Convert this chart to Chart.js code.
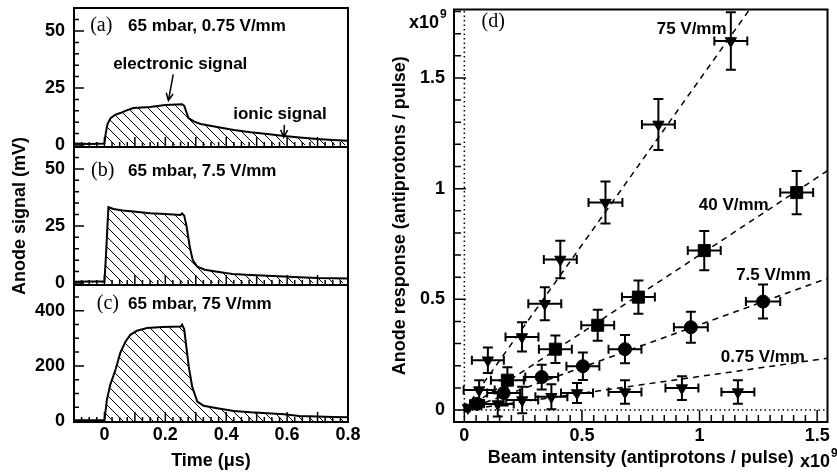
<!DOCTYPE html>
<html>
<head>
<meta charset="utf-8">
<script src="https://cdn.jsdelivr.net/npm/chart.js@4.4.1/dist/chart.umd.min.js"></script>
<style>
  body { margin: 0; background: #fff; width: 837px; height: 476px; position: relative; overflow: hidden; }
  canvas { position: absolute; }
</style>
</head>
<body>
<canvas id="panelA" width="372" height="160" style="left:0;top:0"></canvas>
<canvas id="panelB" width="372" height="220" style="left:0;top:100px"></canvas>
<canvas id="panelC" width="372" height="198" style="left:0;top:278px"></canvas>
<canvas id="panelD" width="452" height="476" style="left:385px;top:0"></canvas>
<script>
// Anode signal waveforms (time in us, signal in mV)
const timeA = [-0.1, -0.05, 0, 0.004, 0.01, 0.02, 0.035, 0.052, 0.075, 0.095, 0.15, 0.2, 0.255, 0.262, 0.276, 0.295, 0.316, 0.37, 0.425, 0.48, 0.535, 0.59, 0.65, 0.7, 0.75, 0.8];
const signalA = [0.6, 0.4, 0.6, 5, 9.2, 11.8, 13.2, 14, 15.3, 16.2, 16.7, 17.5, 17.9, 17.2, 11.8, 10.2, 9.2, 7.9, 6.6, 5.6, 4.8, 3.9, 3.2, 2.6, 2.2, 1.8];

const timeB = [-0.1, -0.05, 0, 0.005, 0.013, 0.03, 0.06, 0.095, 0.15, 0.2, 0.25, 0.255, 0.262, 0.27, 0.28, 0.29, 0.305, 0.33, 0.365, 0.42, 0.48, 0.535, 0.59, 0.64, 0.7, 0.8];
const signalB = [0.5, 0.6, 0.6, 12, 33.2, 32.4, 31.8, 31.3, 30.6, 30.2, 29.8, 30.5, 29.5, 24.7, 16, 10, 7.1, 5.8, 5, 3.9, 3.5, 3.2, 2.8, 2.5, 2.2, 2];

const timeC = [-0.1, -0.05, 0, 0.008, 0.019, 0.036, 0.052, 0.069, 0.085, 0.107, 0.14, 0.19, 0.25, 0.255, 0.262, 0.277, 0.288, 0.305, 0.326, 0.37, 0.425, 0.48, 0.535, 0.59, 0.64, 0.7, 0.75, 0.8];
const signalC = [2, 2, 3, 76, 131, 185, 247, 288, 313, 328, 338, 341, 343, 350, 333, 197, 125, 70, 55, 46, 36, 31, 28, 24, 18, 16, 14, 13];

const timeLabels = [0, 0.2, 0.4, 0.6, 0.8];
const mvLabels = [0, 25, 50];
const mvLabelsC = [0, 200, 400];

// Anode response vs beam intensity (both x1e9), with errors
const beam075 = [0.142, 0.246, 0.370, 0.479, 0.683, 0.925, 1.163];
const resp075 = [0.027, 0.045, 0.060, 0.077, 0.081, 0.099, 0.081];
const beamErr075 = [0.068, 0.068, 0.068, 0.068, 0.07, 0.07, 0.07];
const respErr075 = [0.056, 0.06, 0.056, 0.045, 0.053, 0.054, 0.053];

const beam75 = [0.054, 0.167, 0.329, 0.504, 0.683, 0.963, 1.270];
const resp75 = [0.028, 0.077, 0.149, 0.198, 0.275, 0.374, 0.490];
const beamErr75 = [0.03, 0.07, 0.07, 0.07, 0.07, 0.072, 0.073];
const respErr75 = [0.02, 0.056, 0.056, 0.062, 0.064, 0.07, 0.077];

const beam40 = [0.183, 0.387, 0.567, 0.740, 1.020, 1.413];
const resp40 = [0.135, 0.275, 0.383, 0.510, 0.720, 0.982];
const beamErr40 = [0.07, 0.07, 0.07, 0.07, 0.07, 0.07];
const respErr40 = [0.058, 0.062, 0.07, 0.075, 0.089, 0.098];

const beam750 = [0.015, 0.063, 0.100, 0.245, 0.342, 0.408, 0.600, 0.825, 1.133];
const resp750 = [0.010, 0.090, 0.225, 0.330, 0.480, 0.680, 0.937, 1.290, 1.667];
const beamErr750 = [0.008, 0.066, 0.068, 0.07, 0.07, 0.07, 0.072, 0.07, 0.07];
const respErr750 = [0.008, 0.045, 0.058, 0.066, 0.075, 0.085, 0.095, 0.115, 0.13];

// dashed fits: start and end point of each line
const fit075 = [[0, 0], [1.55, 0.235]];
const fit75 = [[0, 0], [1.55, 0.597]];
const fit40 = [[0, 0], [1.55, 1.085]];
const fit750 = [[0, 0], [1.22, 1.82]];

const beamLabels = [0, 0.5, 1, 1.5];
const respLabels = [0, 0.5, 1, 1.5];

(function() {
  'use strict';

  Chart.defaults.font.family = '"Liberation Sans", Arial, sans-serif';
  Chart.defaults.font.size = 18;
  Chart.defaults.font.weight = 'bold';
  Chart.defaults.color = '#000';

  const SANS = 'bold 17px "Liberation Sans", Arial, sans-serif';
  const SERIF = '20px "Liberation Serif", "Times New Roman", serif';

  function steps(from, to, step) {
    const out = [];
    for (let v = from; v <= to + 1e-9; v += step) out.push(+v.toFixed(4));
    return out;
  }

  function pairs(xs, ys) {
    return xs.map((x, i) => ({ x: x, y: ys[i] }));
  }

  // force axis box sizes so the plot areas line up with the original figure
  function fitBox(w, h) {
    return s => {
      if (w) s.width = w;
      if (h) s.height = h;
      s.paddingTop = s.paddingBottom = s.paddingLeft = s.paddingRight = 0;
    };
  }

  function useTicks(list) {
    return s => { s.ticks = list.map(v => ({ value: v })); };
  }

  function makeHatch() {
    const c = document.createElement('canvas');
    c.width = c.height = 10;
    const g = c.getContext('2d');
    g.strokeStyle = '#000';
    g.lineWidth = 1;
    g.beginPath();
    g.moveTo(-1, -1); g.lineTo(11, 11);
    g.moveTo(-1, 9); g.lineTo(1, 11);
    g.moveTo(9, -1); g.lineTo(11, 1);
    g.stroke();
    return g.createPattern(c, 'repeat');
  }

  // frame plus inward tick marks
  const frameTicks = {
    id: 'frameTicks',
    afterDraw(chart, args, opts) {
      const { ctx, chartArea: a, scales } = chart;
      ctx.save();
      ctx.strokeStyle = '#000';
      ctx.lineWidth = 1.5;
      ctx.beginPath();
      const xt = (list, len) => list.forEach(v => {
        const px = scales.x.getPixelForValue(v);
        if (px < a.left - 0.5 || px > a.right + 0.5) return;
        ctx.moveTo(px, a.bottom); ctx.lineTo(px, a.bottom - len);
      });
      const yt = (list, len) => list.forEach(v => {
        const py = scales.y.getPixelForValue(v);
        if (py < a.top - 0.5 || py > a.bottom + 0.5) return;
        ctx.moveTo(a.left, py); ctx.lineTo(a.left + len, py);
      });
      xt(opts.xMinor, opts.short); xt(opts.xMajor, opts.long);
      yt(opts.yMinor, opts.short); yt(opts.yMajor, opts.long);
      ctx.stroke();
      ctx.lineWidth = 2;
      ctx.strokeRect(a.left, a.top, a.right - a.left, a.bottom - a.top);
      ctx.restore();
    }
  };

  // text labels and arrows in data coordinates
  const notes = {
    id: 'notes',
    afterDraw(chart, args, opts) {
      const { ctx, scales: { x, y } } = chart;
      ctx.save();
      ctx.fillStyle = '#000';
      ctx.strokeStyle = '#000';
      ctx.textBaseline = 'alphabetic';
      (opts.texts || []).forEach(t => {
        ctx.font = t.font;
        ctx.textAlign = t.align || 'left';
        const px = x.getPixelForValue(t.x), py = y.getPixelForValue(t.y);
        ctx.fillText(t.text, px, py);
        if (t.sup) {
          const w = ctx.measureText(t.text).width;
          ctx.font = 'bold 12px "Liberation Sans", Arial, sans-serif';
          ctx.textAlign = 'left';
          ctx.fillText(t.sup, px + w + 1, py - 10);
        }
      });
      ctx.lineWidth = 1.5;
      (opts.arrows || []).forEach(r => {
        const x1 = x.getPixelForValue(r.x1), y1 = y.getPixelForValue(r.y1);
        const x2 = x.getPixelForValue(r.x2), y2 = y.getPixelForValue(r.y2);
        const ang = Math.atan2(y2 - y1, x2 - x1);
        ctx.beginPath();
        ctx.moveTo(x1, y1); ctx.lineTo(x2, y2);
        ctx.moveTo(x2 - 8 * Math.cos(ang - 0.45), y2 - 8 * Math.sin(ang - 0.45));
        ctx.lineTo(x2, y2);
        ctx.lineTo(x2 - 8 * Math.cos(ang + 0.45), y2 - 8 * Math.sin(ang + 0.45));
        ctx.stroke();
      });
      ctx.restore();
    }
  };

  const errorBars = {
    id: 'errorBars',
    beforeDatasetsDraw(chart) {
      const { ctx, scales: { x, y } } = chart;
      ctx.save();
      ctx.strokeStyle = '#000';
      ctx.lineWidth = 2;
      chart.data.datasets.forEach(ds => {
        if (!ds.xErr) return;
        ds.data.forEach((p, i) => {
          const px = x.getPixelForValue(p.x), py = y.getPixelForValue(p.y);
          const x0 = x.getPixelForValue(p.x - ds.xErr[i]), x1 = x.getPixelForValue(p.x + ds.xErr[i]);
          const y0 = y.getPixelForValue(p.y - ds.yErr[i]), y1 = y.getPixelForValue(p.y + ds.yErr[i]);
          ctx.beginPath();
          ctx.moveTo(x0, py); ctx.lineTo(x1, py);
          ctx.moveTo(px, y0); ctx.lineTo(px, y1);
          ctx.moveTo(x0, py - 4.5); ctx.lineTo(x0, py + 4.5);
          ctx.moveTo(x1, py - 4.5); ctx.lineTo(x1, py + 4.5);
          ctx.moveTo(px - 5, y0); ctx.lineTo(px + 5, y0);
          ctx.moveTo(px - 5, y1); ctx.lineTo(px + 5, y1);
          ctx.stroke();
        });
      });
      ctx.restore();
    }
  };

  const hatch = makeHatch();
  const noGrid = { display: false, drawTicks: false };

  function waveformPanel(id, times, signal, cfg) {
    return new Chart(document.getElementById(id), {
      type: 'line',
      data: {
        datasets: [{
          data: pairs(times, signal),
          borderColor: '#000',
          borderWidth: 2,
          backgroundColor: hatch,
          fill: 'origin',
          pointRadius: 0,
          tension: 0
        }]
      },
      options: {
        responsive: false,
        animation: false,
        layout: { padding: cfg.padding },
        plugins: {
          legend: { display: false },
          tooltip: { enabled: false },
          frameTicks: {
            xMajor: steps(-0.1, 0.8, 0.1), xMinor: steps(-0.1, 0.8, 0.025),
            yMajor: cfg.yLabels, yMinor: cfg.yMinor,
            long: 10, short: 5
          },
          notes: { texts: cfg.texts, arrows: cfg.arrows || [] }
        },
        scales: {
          x: {
            type: 'linear', min: -0.1, max: 0.8,
            display: !!cfg.showX,
            afterBuildTicks: useTicks(timeLabels),
            afterFit: fitBox(0, cfg.showX ? 54 : 0),
            grid: noGrid, border: { display: false },
            ticks: { padding: 2, callback: v => String(v) },
            title: { display: true, text: 'Time (\u03bcs)', padding: { top: 0, bottom: 4 }, font: { size: 18, weight: 'bold' } }
          },
          y: {
            type: 'linear', min: cfg.yMin, max: cfg.yMax,
            afterBuildTicks: useTicks(cfg.yLabels),
            afterFit: fitBox(74, 0),
            grid: noGrid, border: { display: false },
            ticks: { padding: 9, callback: v => String(v) },
            title: { display: !!cfg.yTitle, text: 'Anode signal (mV)', padding: { top: 9, bottom: 0 }, font: { size: 18, weight: 'bold' } }
          }
        }
      },
      plugins: [frameTicks, notes]
    });
  }

  waveformPanel('panelA', timeA, signalA, {
    padding: { left: 0, top: 8, right: 24, bottom: 13 },
    yMin: -0.9, yMax: 60.1, yLabels: mvLabels, yMinor: steps(0, 60, 5),
    texts: [
      { x: -0.047, y: 50, text: '(a)', font: SERIF },
      { x: 0.0775, y: 50, text: '65 mbar, 0.75 V/mm', font: SANS },
      { x: 0.0286, y: 33.2, text: 'electronic signal', font: SANS },
      { x: 0.423, y: 11.3, text: 'ionic signal', font: SANS }
    ],
    arrows: [
      { x1: 0.226, y1: 31, x2: 0.21, y2: 19.5 },
      { x1: 0.591, y1: 8.8, x2: 0.589, y2: 3.4 }
    ]
  });

  waveformPanel('panelB', timeB, signalB, {
    padding: { left: 0, top: 47, right: 24, bottom: 35 },
    yMin: -0.9, yMax: 59.6, yLabels: mvLabels, yMinor: steps(0, 60, 5),
    yTitle: true,
    texts: [
      { x: -0.044, y: 46.9, text: '(b)', font: SERIF },
      { x: 0.0775, y: 46.9, text: '65 mbar, 7.5 V/mm', font: SANS }
    ]
  });

  waveformPanel('panelC', timeC, signalC, {
    padding: { left: 0, top: 7, right: 24, bottom: 0 },
    yMin: -4, yMax: 494, yLabels: mvLabelsC, yMinor: steps(0, 450, 50),
    showX: true,
    texts: [
      { x: -0.025, y: 407, text: '(c)', font: SERIF },
      { x: 0.0775, y: 407, text: '65 mbar, 75 V/mm', font: SANS }
    ]
  });

  // right panel: response vs intensity
  const xMin = -0.044, xMax = 1.544, yMin = -0.054, yMax = 1.809;

  function points(xs, ys, xe, ye, style, radius, rotation) {
    return {
      data: pairs(xs, ys), xErr: xe, yErr: ye,
      pointStyle: style, pointRadius: radius, rotation: rotation || 0,
      backgroundColor: '#000', borderColor: '#000', borderWidth: 1,
      order: 0
    };
  }

  function fitLine(ends) {
    return {
      data: ends.map(p => ({ x: p[0], y: p[1] })),
      showLine: true, pointRadius: 0, borderColor: '#000', borderWidth: 1.5,
      borderDash: [6, 5], order: 1
    };
  }

  function guide(data) {
    return {
      data: data, showLine: true, pointRadius: 0, borderColor: '#000', borderWidth: 1.5,
      borderDash: [1.5, 3], order: 2
    };
  }

  new Chart(document.getElementById('panelD'), {
    type: 'scatter',
    data: {
      datasets: [
        guide([{ x: 0, y: yMin }, { x: 0, y: yMax }]),
        guide([{ x: xMin, y: 0 }, { x: xMax, y: 0 }]),
        fitLine(fit075), fitLine(fit75), fitLine(fit40), fitLine(fit750),
        points(beam075, resp075, beamErr075, respErr075, 'triangle', 6.5, 180),
        points(beam75, resp75, beamErr75, respErr75, 'circle', 6.5),
        points(beam40, resp40, beamErr40, respErr40, 'rect', 8.5),
        points(beam750, resp750, beamErr750, respErr750, 'triangle', 6.5, 180)
      ]
    },
    options: {
      responsive: false,
      animation: false,
      layout: { padding: { left: 0, top: 8, right: 2, bottom: 0 } },
      plugins: {
        legend: { display: false },
        tooltip: { enabled: false },
        frameTicks: {
          xMajor: beamLabels, xMinor: steps(0, 1.5, 0.05),
          yMajor: respLabels, yMinor: steps(0, 1.8, 0.1),
          long: 12, short: 7
        },
        notes: {
          texts: [
            { x: 0.073, y: 1.728, text: '(d)', font: SERIF },
            { x: 1.115, y: 1.698, text: '75 V/mm', font: SANS, align: 'right' },
            { x: 1.294, y: 0.903, text: '40 V/mm', font: SANS, align: 'right' },
            { x: 1.473, y: 0.588, text: '7.5 V/mm', font: SANS, align: 'right' },
            { x: 1.448, y: 0.217, text: '0.75 V/mm', font: SANS, align: 'right' },
            { x: -0.235, y: 1.724, text: 'x10', sup: '9', font: 'bold 18px "Liberation Sans", Arial, sans-serif' },
            { x: 1.427, y: -0.2565, text: 'x10', sup: '9', font: 'bold 18px "Liberation Sans", Arial, sans-serif' }
          ]
        }
      },
      scales: {
        x: {
          type: 'linear', min: xMin, max: xMax,
          afterBuildTicks: useTicks(beamLabels),
          afterFit: fitBox(0, 54),
          grid: noGrid, border: { display: false },
          ticks: { padding: 3, callback: v => String(v) },
          title: { display: true, text: 'Beam intensity (antiprotons / pulse)', padding: { top: 0, bottom: 7 }, font: { size: 18, weight: 'bold' } }
        },
        y: {
          type: 'linear', min: yMin, max: yMax,
          afterBuildTicks: useTicks(respLabels),
          afterFit: fitBox(69, 0),
          grid: noGrid, border: { display: false },
          ticks: { padding: 9, callback: v => String(v) },
          title: { display: true, text: 'Anode response (antiprotons / pulse)', padding: { top: 4, bottom: 0 }, font: { size: 18, weight: 'bold' } }
        }
      }
    },
    plugins: [errorBars, frameTicks, notes]
  });
})();
</script>
</body>
</html>
